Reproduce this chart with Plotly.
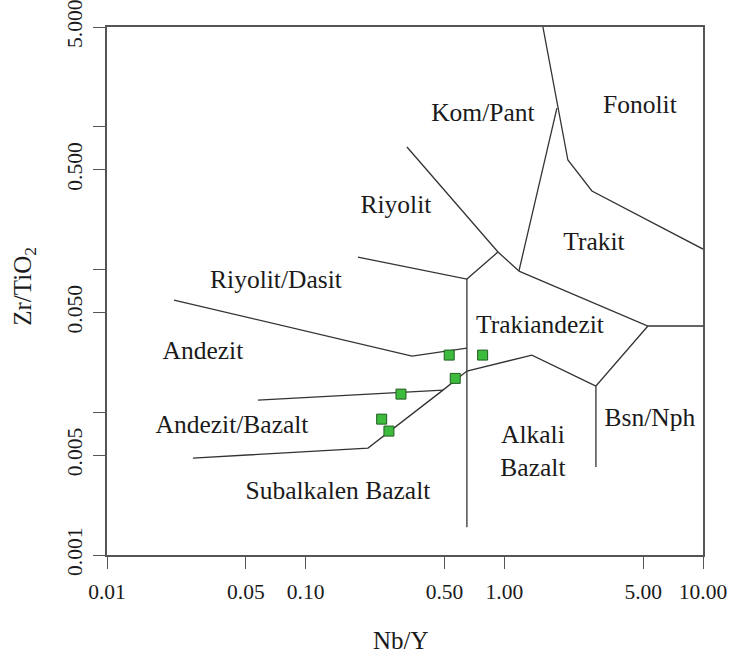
import plotly.graph_objects as go

# boundary lines of the Nb/Y - Zr/TiO2 diagram (x = Nb/Y, y = Zr/TiO2)
fonolit_x = [1.564, 2.089, 2.760, 10.0]
fonolit_y = [5.0, 0.585, 0.355, 0.139]
trakit_left_x = [1.184, 1.839]
trakit_left_y = [0.0975, 1.353]
riyolit_x = [0.3235, 0.929, 1.184]
riyolit_y = [0.721, 0.1326, 0.0975]
trakit_low_x = [1.184, 5.28, 10.0]
trakit_low_y = [0.0975, 0.0402, 0.0402]
bsn_x = [5.28, 2.891, 2.891]
bsn_y = [0.0402, 0.01525, 0.004127]
subalk_x = [2.891, 1.377, 0.648, 0.491, 0.206, 0.02708]
subalk_y = [0.01525, 0.02515, 0.01943, 0.01429, 0.005609, 0.004772]
andbas_x = [0.0575, 0.491]
andbas_y = [0.01217, 0.01429]
andezit_x = [0.02174, 0.343, 0.648]
andezit_y = [0.0611, 0.02474, 0.02815]
dasit_x = [0.1832, 0.648, 0.929]
dasit_y = [0.1223, 0.0857, 0.1326]
vert_x = [0.648, 0.648]
vert_y = [0.0857, 0.001567]

boundaries = [
    (fonolit_x, fonolit_y), (trakit_left_x, trakit_left_y), (riyolit_x, riyolit_y),
    (trakit_low_x, trakit_low_y), (bsn_x, bsn_y), (subalk_x, subalk_y),
    (andbas_x, andbas_y), (andezit_x, andezit_y), (dasit_x, dasit_y), (vert_x, vert_y),
]

# field names
label_text = ["Fonolit", "Kom/Pant", "Riyolit", "Trakit", "Riyolit/Dasit", "Trakiandezit",
              "Andezit", "Andezit/Bazalt", "Subalkalen Bazalt", "Alkali<br>Bazalt", "Bsn/Nph"]
label_x = [4.814, 0.780, 0.2848, 2.825, 0.0709, 1.511, 0.0304, 0.04257, 0.1454, 1.393, 5.404]
label_y = [1.375, 1.209, 0.274, 0.1508, 0.0817, 0.0395, 0.02597, 0.00787, 0.002757, 0.00517, 0.00881]

# samples
nb_y = [0.528, 0.7777, 0.566, 0.3018, 0.2413, 0.2625]
zr_ti = [0.02515, 0.02515, 0.01727, 0.01340, 0.00895, 0.00738]

x_ticks = [0.01, 0.05, 0.1, 0.5, 1, 5, 10]
x_tick_text = ["0.01", "0.05", "0.10", "0.50", "1.00", "5.00", "10.00"]
y_ticks = [0.001, 0.005, 0.05, 0.5, 5]
y_tick_text = ["0.001", "0.005", "0.050", "0.500", "5.000"]
y_minor_ticks = [0.01, 0.1, 1]

font = "Liberation Serif"

fig = go.Figure()
for bx, by in boundaries:
    fig.add_trace(go.Scatter(x=bx, y=by, mode="lines", line=dict(color="#333333", width=1.3),
                             hoverinfo="skip", showlegend=False))

fig.add_trace(go.Scatter(x=label_x, y=label_y, mode="text", text=label_text,
                         textfont=dict(family=font, size=25.5, color="#1a1a1a"),
                         hoverinfo="skip", showlegend=False))

fig.add_trace(go.Scatter(x=nb_y, y=zr_ti, mode="markers",
                         marker=dict(symbol="square", size=10, color="#3cbb3c",
                                     line=dict(color="#245c24", width=1)),
                         showlegend=False))

axis_common = dict(type="log", showline=True, mirror=True, linecolor="#555555", linewidth=1.5,
                   ticks="outside", ticklen=12, tickwidth=1.3, tickcolor="#555555",
                   showgrid=False, zeroline=False, automargin=False, ticklabeloverflow="allow",
                   tickfont=dict(family=font, size=21.5, color="#1a1a1a"))

fig.update_xaxes(range=[-2, 1], tickvals=x_ticks, ticktext=x_tick_text, ticklabelstandoff=4,
                 **axis_common)
fig.update_yaxes(range=[-3, 0.69897], tickvals=y_ticks, ticktext=y_tick_text, tickangle=-90,
                 ticklabelstandoff=3,
                 minor=dict(tickvals=y_minor_ticks, ticks="outside", ticklen=12,
                            tickwidth=1.3, tickcolor="#555555", showgrid=False),
                 **axis_common)

fig.add_annotation(text="Nb/Y", xref="paper", yref="paper", x=0.493, y=-0.161,
                   xanchor="center", yanchor="middle", showarrow=False,
                   font=dict(family=font, size=25, color="#1a1a1a"))
fig.add_annotation(text="Zr/TiO<sub>2</sub>", xref="paper", yref="paper", x=-0.138, y=0.5095,
                   xanchor="center", yanchor="middle", textangle=-90, showarrow=False,
                   font=dict(family=font, size=25, color="#1a1a1a"))

fig.update_layout(width=731, height=659, margin=dict(l=107, r=28, t=27, b=104),
                  plot_bgcolor="white", paper_bgcolor="white")

# drop the default 8px page margin so the figure fills the window
fig.write_html("out.html", config={"displayModeBar": False},
               post_script="document.body.style.margin = '0';")
